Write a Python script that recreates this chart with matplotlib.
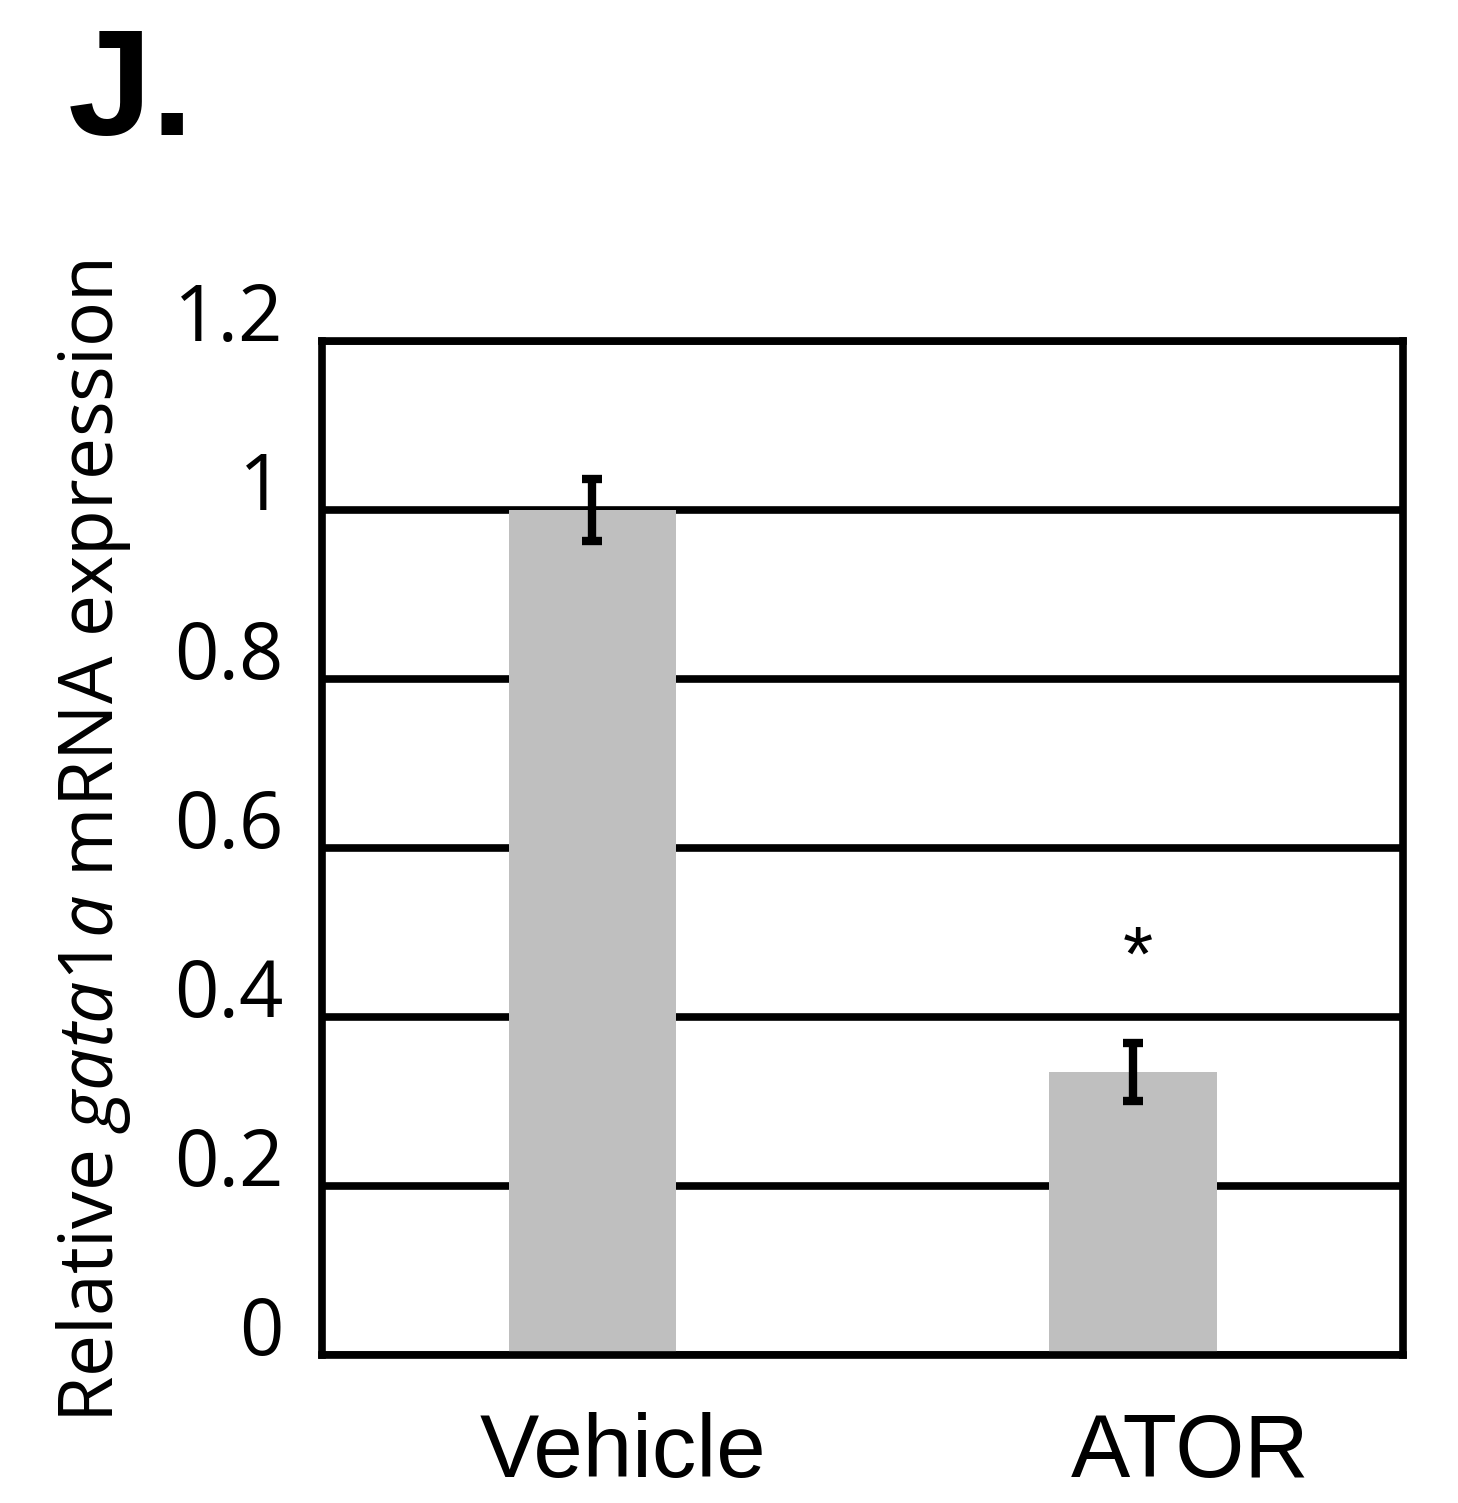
import numpy as np
import matplotlib
matplotlib.use("Agg")
import matplotlib.pyplot as plt

# data
categories = ["Vehicle", "ATOR"]
values = [1.0, 0.335]
errors = [0.037, 0.034]
label_dx = [22, 41]          # pt shift of category labels, as in the reference
y_ticks = [0, 0.2, 0.4, 0.6, 0.8, 1.0, 1.2]
y_tick_labels = ["0", "0.2", "0.4", "0.6", "0.8", "1", "1.2"]

plt.rcParams['font.family'] = ['Open Sans', 'DejaVu Sans']
plt.rcParams['mathtext.fontset'] = 'custom'
plt.rcParams['mathtext.rm'] = 'Open Sans'
plt.rcParams['mathtext.it'] = 'Open Sans:italic'

fig = plt.figure(figsize=(14.58, 15.03), dpi=100)
ax = fig.add_axes([0.2209, 0.0985, 0.7414, 0.6746])

x = np.arange(len(categories))
ax.bar(x, values, width=0.31, color='#bfbfbf', zorder=3)
ax.errorbar(x, values, yerr=errors, fmt='none', ecolor='black',
            elinewidth=6, capsize=7, capthick=6, zorder=4)

# significance marker
ax.text(x[1] + 0.01, 0.467, "*", ha='center', va='center', fontsize=56,
        family='Liberation Sans', zorder=5)

ax.set_xlim(-0.5, 1.5)
ax.set_ylim(0, 1.2)
ax.set_yticks(y_ticks)
ax.set_yticklabels(y_tick_labels, fontsize=56)
for lbl in ax.get_yticklabels():
    lbl.set_verticalalignment('baseline')
ax.yaxis.grid(True, color='black', linewidth=5.5, zorder=0)
ax.set_axisbelow(True)

# category labels (offset from the bar centres like the original)
ax.set_xticks(x)
ax.set_xticklabels([])
for xi, cat, dx in zip(x, categories, label_dx):
    ax.annotate(cat, xy=(xi, 0), xycoords=('data', 'axes fraction'),
                xytext=(dx, -41), textcoords='offset points',
                ha='center', va='top', fontsize=64, family='Liberation Sans')

ax.tick_params(axis='both', length=0)
ax.tick_params(axis='y', pad=28)

for sp in ax.spines.values():
    sp.set_linewidth(5.5)
    sp.set_zorder(6)

ax.set_ylabel("Relative $\\mathit{gata1a}$ mRNA expression", fontsize=54)
ax.yaxis.set_label_coords(-0.175, 0.507)

fig.text(0.0466, 0.910, "J.", fontsize=109, fontweight='bold',
         family='Liberation Sans', va='baseline')

fig.savefig("out.png", dpi=100)
